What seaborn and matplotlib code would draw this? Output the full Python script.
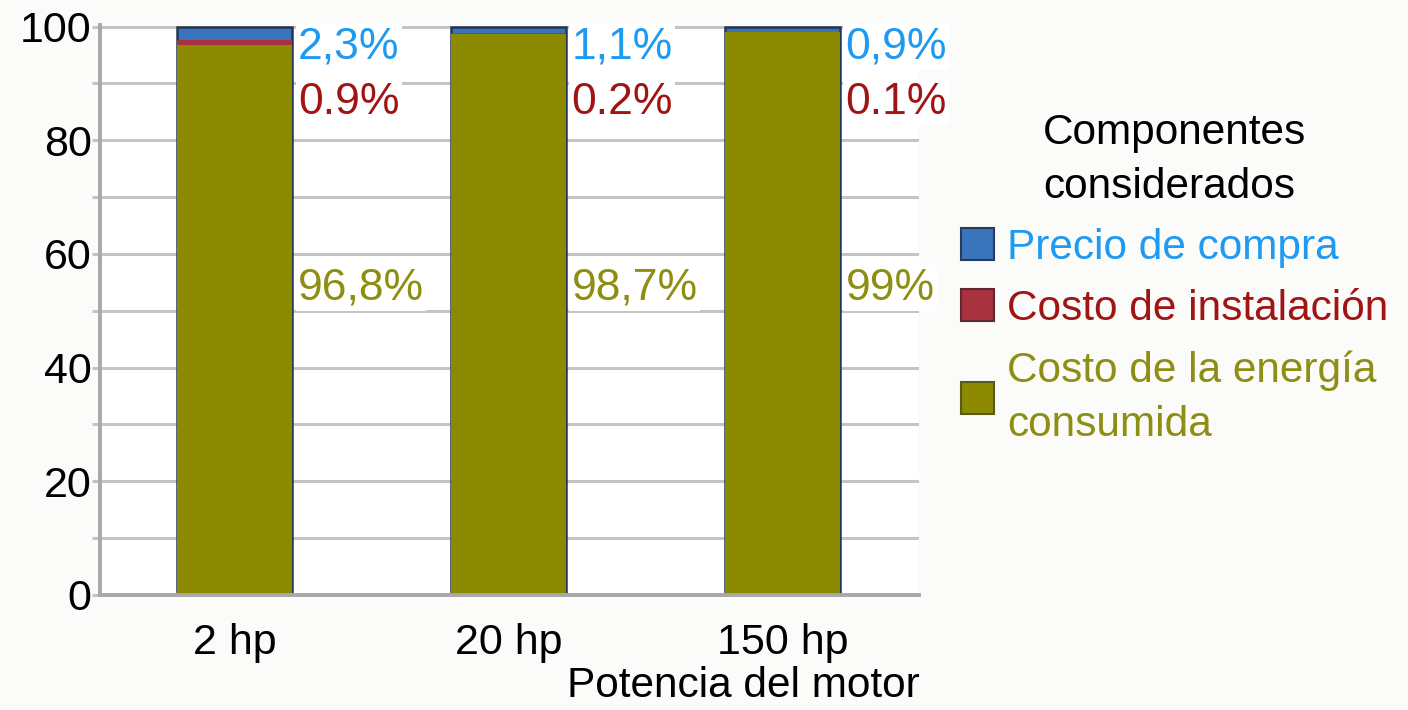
import matplotlib
matplotlib.use("Agg")
import matplotlib.pyplot as plt
from matplotlib.patches import Patch
import seaborn as sns
import numpy as np

# Cost breakdown by motor size (percent of life-cycle cost)
motores = ["2 hp", "20 hp", "150 hp"]
precio_compra = [2.3, 1.1, 0.9]
costo_instalacion = [0.9, 0.2, 0.1]
costo_energia = [96.8, 98.7, 99.0]

serie_nombres = ["Precio de compra", "Costo de instalación",
                 "Costo de la energía\nconsumida"]
titulo_leyenda = "Componentes\nconsiderados"
eje_x = "Potencia del motor"

sns.set_theme(style="white")
plt.rcParams["font.family"] = ["Liberation Sans", "DejaVu Sans"]
plt.rcParams.update({"text.color": "black", "axes.labelcolor": "black",
                     "xtick.color": "black", "ytick.color": "black"})

c_blue, c_red, c_olive = "#3a74bd", "#a8323e", "#8b8a00"
t_blue, t_red, t_olive = "#1e9af0", "#a01414", "#8e8e12"
grid_c = "#c4c4c4"

fig = plt.figure(figsize=(14.08, 7.10), dpi=100, facecolor="#fbfbf9")
ax = fig.add_axes([0.071, 0.162, 0.582, 0.803])
ax.set_facecolor("white")

energia = np.array(costo_energia)
inst_top = energia + np.array(costo_instalacion)
total = inst_top + np.array(precio_compra)

bw = 0.42
sns.barplot(x=motores, y=total, color=c_blue, width=bw, saturation=1,
            edgecolor="#263650", linewidth=1.8, ax=ax, zorder=3)
sns.barplot(x=motores, y=inst_top, color=c_red, width=bw, saturation=1,
            linewidth=0, ax=ax, zorder=3)
sns.barplot(x=motores, y=energia, color=c_olive, width=bw, saturation=1,
            linewidth=0, ax=ax, zorder=3)

ax.set_xlim(-0.493, 2.5)
ax.set_ylim(0, 100.3)
ax.set_yticks(range(0, 101, 20))
ax.set_yticks(range(10, 100, 20), minor=True)
ax.grid(True, axis="y", which="both", color=grid_c, linewidth=2.2, zorder=0)
ax.tick_params(axis="y", which="both", direction="out", length=6, width=2.2,
               color=grid_c, labelsize=31, pad=0, left=True, labelcolor="black")
ax.tick_params(axis="x", length=0, labelsize=31, pad=20, labelcolor="black")
for s in ["top", "right"]:
    ax.spines[s].set_visible(False)
for s in ["left", "bottom"]:
    ax.spines[s].set_color("#a8a8a8")
    ax.spines[s].set_linewidth(2.8)
    ax.spines[s].set_zorder(4)

ax.set_xlabel(eje_x, fontsize=30.5, loc="right", labelpad=2, color="black")
ax.set_ylabel("")

def coma(v):
    return f"{v:g}".replace(".", ",") + "%"

box = dict(facecolor="white", edgecolor="none", pad=1.5)
for i in range(len(motores)):
    xl = i + bw / 2 + 0.02
    ax.text(xl, 96.4, coma(precio_compra[i]), color=t_blue, fontsize=32,
            va="center", ha="left", bbox=box, zorder=5)
    ax.text(xl, 86.6, f"{costo_instalacion[i]:.1f}%", color=t_red, fontsize=32,
            va="center", ha="left", bbox=box, zorder=5)
    ax.text(xl, 54.0, coma(costo_energia[i]), color=t_olive, fontsize=32,
            va="center", ha="left", bbox=box, zorder=5)

handles = [Patch(facecolor=c_blue, edgecolor="#2a3a58", linewidth=1.5),
           Patch(facecolor=c_red, edgecolor="#5a2a30", linewidth=1.5),
           Patch(facecolor=c_olive, edgecolor="#5a5a20", linewidth=1.5)]
leg = fig.legend(handles, serie_nombres, title=titulo_leyenda,
                 loc="upper left", bbox_to_anchor=(0.6705, 0.865),
                 frameon=False, fontsize=30.5, title_fontsize=30.5,
                 handlelength=0.78, handleheight=0.78, handletextpad=0.3,
                 labelspacing=0.5, borderaxespad=0)
leg.get_title().set_multialignment("left")
leg.get_title().set_linespacing(1.45)
leg.get_title().set_color("black")
for txt, col in zip(leg.get_texts(), [t_blue, t_red, t_olive]):
    txt.set_color(col)
    txt.set_linespacing(1.45)

fig.savefig("out.png", dpi=100, facecolor=fig.get_facecolor())
